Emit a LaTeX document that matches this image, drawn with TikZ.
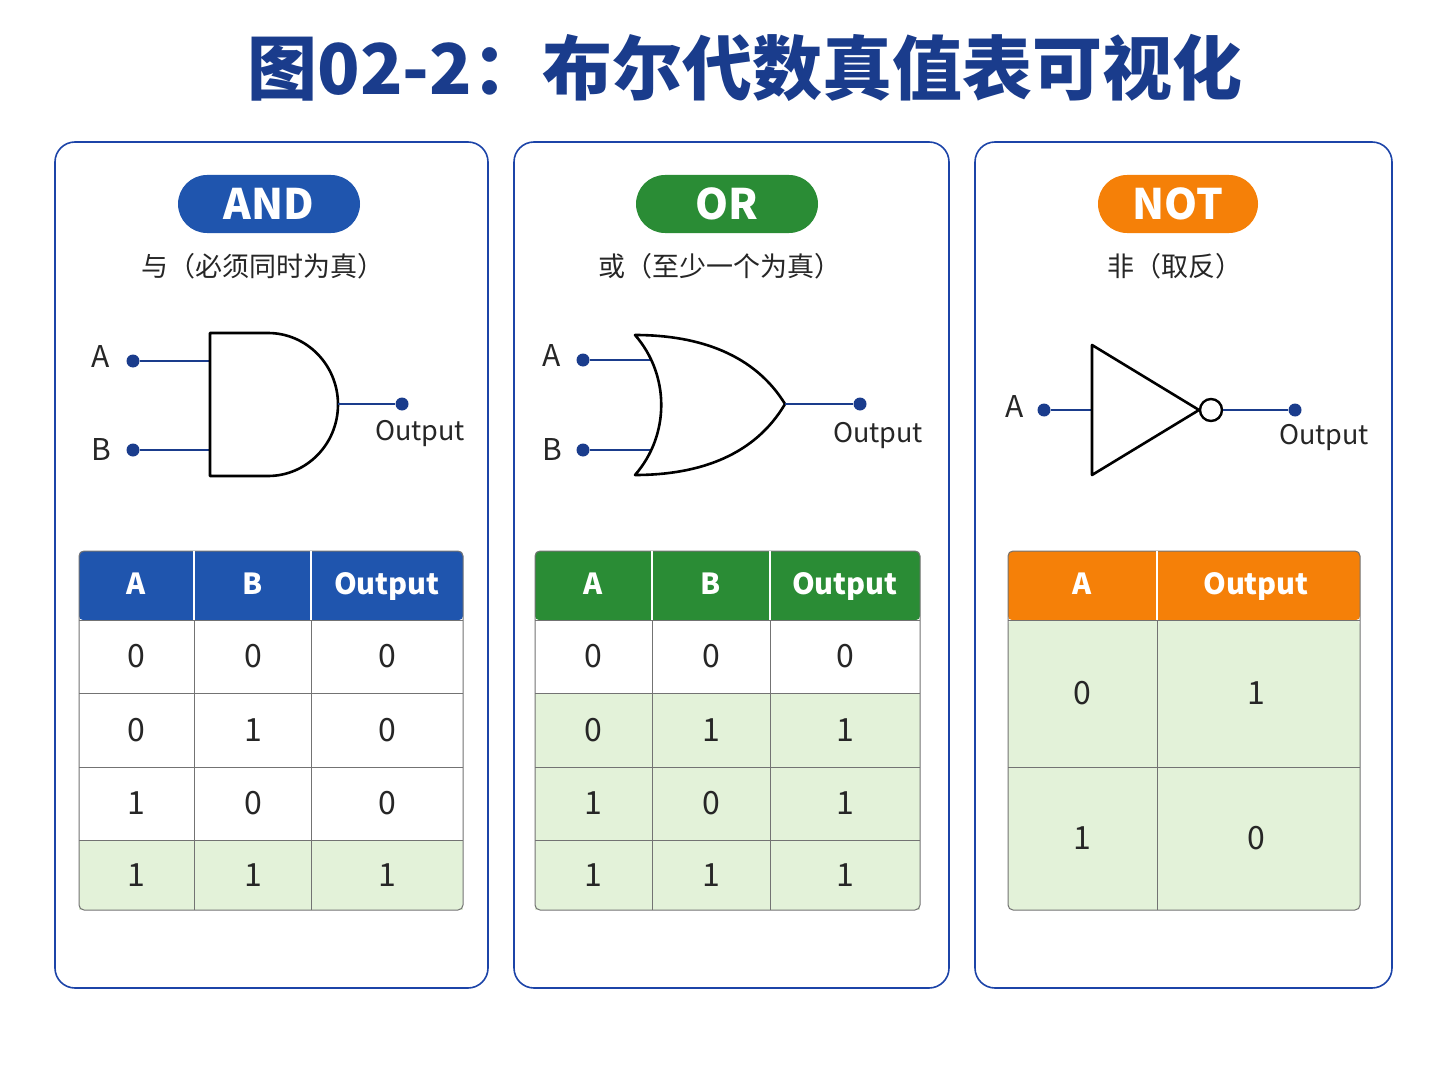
\documentclass[tikz,border=0pt]{standalone}
\usepackage{fontspec}
\setmainfont{Noto Sans CJK SC}
\definecolor{tblue}{HTML}{1A3C8C}
\definecolor{cblue}{HTML}{1F55AE}
\definecolor{cgreen}{HTML}{2A8C35}
\definecolor{corange}{HTML}{F58008}
\definecolor{lgreen}{HTML}{E3F2D9}
\definecolor{pborder}{HTML}{1C44A8}
\definecolor{wire}{HTML}{1A3C8C}
\tikzset{x=1pt,y=-1pt,
 panel/.style={draw=pborder,line width=1.6pt,rounded corners=20pt,fill=white},
 badge/.style={rounded corners=29pt,minimum height=58pt,text=white,font=\fontsize{42}{44}\selectfont\bfseries,inner sep=0pt},
 sub/.style={font=\fontsize{27}{30}\selectfont,text=black!85},
 pin/.style={circle,fill=wire,inner sep=0pt,minimum size=13pt},
 wl/.style={draw=wire,line width=2.5pt},
 gate/.style={draw=black,line width=2.6pt,line join=round},
 lab/.style={font=\fontsize{30}{32}\selectfont,text=black!85},
 olab/.style={font=\fontsize{27}{30}\selectfont,text=black!85},
 hd/.style={font=\fontsize{29}{32}\selectfont\bfseries,text=white,text height=22pt,text depth=6pt},
 cell/.style={font=\fontsize{32}{34}\selectfont,text=black!85},
 grid/.style={draw=black!55,line width=1pt}}
\begin{document}
\begin{tikzpicture}
\useasboundingbox[fill=white] (0,0) rectangle (1448,1086);
\node[font=\fontsize{70}{72}\selectfont\bfseries,text=tblue] (title) at (745,68) {图02-2：布尔代数真值表可视化};
\draw[panel] (55,142) rectangle (488,988);
\draw[panel] (514,142) rectangle (949,988);
\draw[panel] (975,142) rectangle (1392,988);
\node[badge,fill=cblue,minimum width=182pt] (b1) at (269,204) {AND};
\node[badge,fill=cgreen,minimum width=182pt] (b2) at (727,204) {OR};
\node[badge,fill=corange,minimum width=160pt] (b3) at (1178,204) {NOT};
\node[sub] (s1) at (263,266) {与（必须同时为真）};
\node[sub] (s2) at (720,266) {或（至少一个为真）};
\node[sub] (s3) at (1175,266) {非（取反）};
% AND gate
\node[lab] (aA) at (101,357) {A};
\node[lab] (aB) at (101,450) {B};
\node[pin] (pa1) at (133,361) {};
\node[pin] (pa2) at (133,450) {};
\coordinate (ga1) at (210,361); \coordinate (ga2) at (210,450);
\draw[wl] (pa1) -- (ga1); \draw[wl] (pa2) -- (ga2);
\draw[gate] (210,333) -- (268,333) arc[start angle=90,end angle=-90,x radius=70,y radius=-71.5] -- (210,476) -- cycle;
\coordinate (goa) at (338,404);
\node[pin] (poa) at (402,404) {};
\draw[wl] (goa) -- (poa);
\node[olab] (oa) at (420,434) {Output};
% OR gate
\node[lab] (oA) at (552,356) {A};
\node[lab] (oB) at (552,450) {B};
\node[pin] (po1) at (583,360) {};
\node[pin] (po2) at (583,450) {};
\coordinate (go1) at (652,360); \coordinate (go2) at (652,450);
\draw[wl] (po1) -- (go1); \draw[wl] (po2) -- (go2);
\draw[gate] (635,335) .. controls (670,375) and (670,435) .. (635,475)
 .. controls (700,475) and (755,455) .. (785,404)
 .. controls (755,355) and (700,335) .. (635,335) -- cycle;
\coordinate (goo) at (785,404);
\node[pin] (poo) at (860,404) {};
\draw[wl] (goo) -- (poo);
\node[olab] (oo) at (878,436) {Output};
% NOT gate
\node[lab] (nA) at (1015,407) {A};
\node[pin] (pn1) at (1044,410) {};
\coordinate (gn1) at (1092,410);
\draw[wl] (pn1) -- (gn1);
\draw[gate] (1092,345) -- (1199,410) -- (1092,475) -- cycle;
\node[circle,draw=black,line width=2.4pt,minimum size=22pt,inner sep=0pt,fill=white] (bub) at (1211,410) {};
\node[pin] (pno) at (1295,410) {};
\draw[wl] (bub) -- (pno);
\node[olab] (on) at (1324,438) {Output};
% AND table
\fill[lgreen] (79,840) rectangle (463,910);
\fill[cblue,rounded corners=4pt] (79,551) rectangle (463,620);
\draw[grid,rounded corners=5pt] (79,551) rectangle (463,910);
\foreach \y in {620,693,767,840} \draw[grid] (79,\y) -- (463,\y);
\foreach \x in {194,311} {\draw[grid] (\x,620) -- (\x,910); \draw[white,line width=1.2pt] (\x,551) -- (\x,620);}
\node[hd] at (136,586) {A}; \node[hd] at (253,586) {B}; \node[hd] at (387,586) {Output};
\foreach \a/\b/\o [count=\i] in {0/0/0,0/1/0,1/0/0,1/1/1}{
 \pgfmathsetmacro\yy{{620,693,767,840,910}[\i-1]/2+{620,693,767,840,910}[\i]/2}
 \node[cell] at (136,\yy) {\a}; \node[cell] at (253,\yy) {\b}; \node[cell] at (387,\yy) {\o};}
% OR table
\fill[lgreen] (535,693) rectangle (920,910);
\fill[cgreen,rounded corners=4pt] (535,551) rectangle (920,620);
\draw[grid,rounded corners=5pt] (535,551) rectangle (920,910);
\foreach \y in {620,693,767,840} \draw[grid] (535,\y) -- (920,\y);
\foreach \x in {652,770} {\draw[grid] (\x,620) -- (\x,910); \draw[white,line width=1.2pt] (\x,551) -- (\x,620);}
\node[hd] at (593,586) {A}; \node[hd] at (711,586) {B}; \node[hd] at (845,586) {Output};
\foreach \a/\b/\o [count=\i] in {0/0/0,0/1/1,1/0/1,1/1/1}{
 \pgfmathsetmacro\yy{{620,693,767,840,910}[\i-1]/2+{620,693,767,840,910}[\i]/2}
 \node[cell] at (593,\yy) {\a}; \node[cell] at (711,\yy) {\b}; \node[cell] at (845,\yy) {\o};}
% NOT table
\fill[lgreen,rounded corners=5pt] (1008,620) rectangle (1360,910);
\fill[corange,rounded corners=4pt] (1008,551) rectangle (1360,620);
\draw[grid,rounded corners=5pt] (1008,551) rectangle (1360,910);
\draw[grid] (1008,620) -- (1360,620); \draw[grid] (1008,767) -- (1360,767);
\draw[grid] (1157,620) -- (1157,910); \draw[white,line width=1.2pt] (1157,551) -- (1157,620);
\node[hd] at (1082,586) {A}; \node[hd] at (1256,586) {Output};
\node[cell] at (1082,693) {0}; \node[cell] at (1256,693) {1};
\node[cell] at (1082,838) {1}; \node[cell] at (1256,838) {0};
\end{tikzpicture}
\end{document}
